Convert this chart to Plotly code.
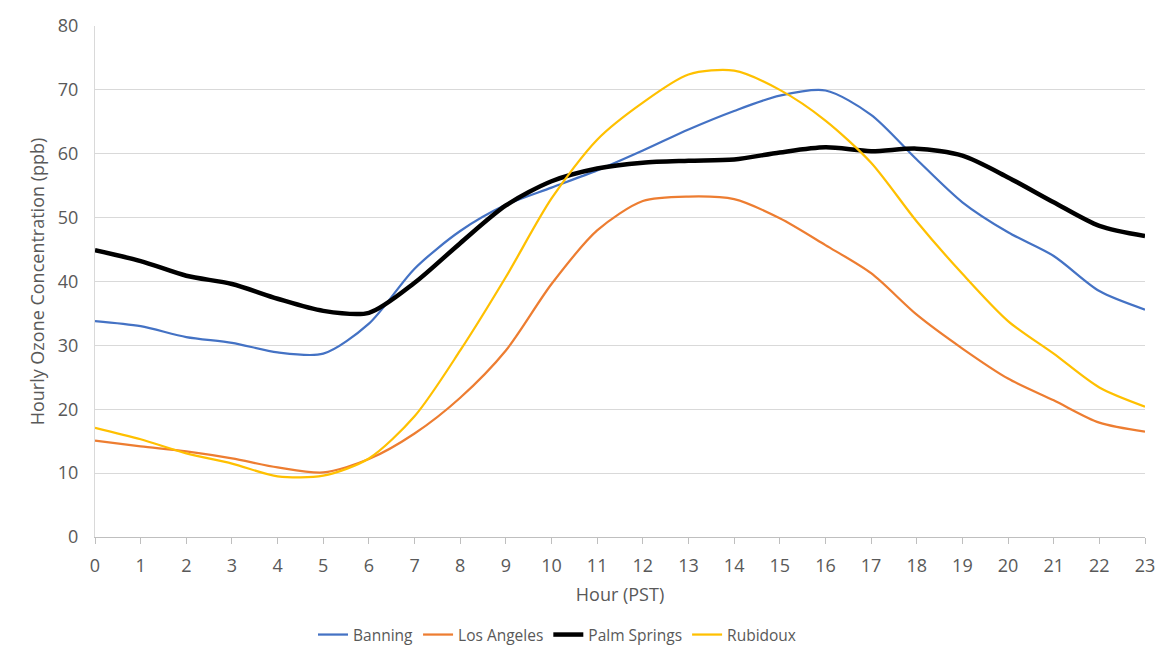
import plotly.graph_objects as go

hours = list(range(24))
banning = [33.8, 33.0, 31.3, 30.4, 28.9, 28.7, 33.4, 42.0, 47.9, 52.0, 54.7, 57.4,
           60.5, 63.8, 66.7, 69.1, 69.9, 66.1, 59.1, 52.4, 47.7, 44.0, 38.5, 35.6]
los_angeles = [15.1, 14.2, 13.4, 12.3, 10.9, 10.1, 12.2, 16.2, 21.8, 29.2, 39.6, 48.0,
               52.6, 53.3, 52.9, 49.9, 45.7, 41.3, 34.8, 29.5, 24.8, 21.4, 17.9, 16.5]
palm_springs = [44.9, 43.2, 40.9, 39.6, 37.3, 35.4, 35.1, 39.8, 46.0, 51.9, 55.7, 57.7,
                58.6, 58.9, 59.1, 60.2, 61.0, 60.4, 60.8, 59.7, 56.3, 52.4, 48.7, 47.1]
rubidoux = [17.1, 15.3, 13.1, 11.5, 9.5, 9.6, 12.3, 18.9, 29.2, 40.7, 53.0, 62.2,
            68.0, 72.4, 73.0, 70.0, 65.2, 58.6, 49.4, 41.2, 33.8, 28.7, 23.4, 20.4]

series = [
    ("Banning", banning, "#4472C4", 2.25),
    ("Los Angeles", los_angeles, "#ED7D31", 2.25),
    ("Palm Springs", palm_springs, "#000000", 4.5),
    ("Rubidoux", rubidoux, "#FFC000", 2.25),
]

fig = go.Figure()
for name, vals, color, w in series:
    fig.add_trace(go.Scatter(
        x=hours, y=vals, name=name, mode="lines",
        line=dict(color=color, width=w, shape="spline", smoothing=0.8),
    ))

font_family = "Open Sans, Liberation Sans, sans-serif"
grey = "#595959"

fig.update_layout(
    width=1156, height=656,
    paper_bgcolor="white", plot_bgcolor="white",
    margin=dict(l=87, r=19, t=18, b=125),
    font=dict(family=font_family, size=18, color=grey),
    xaxis=dict(
        range=[0, 23], tickmode="array", tickvals=hours,
        ticktext=[str(h) for h in hours],
        showgrid=False, showline=True, linecolor="#bfbfbf", linewidth=1,
        ticks="outside", ticklen=6, tickcolor="#bfbfbf",
        ticklabelstandoff=6,
        tickfont=dict(size=18, color=grey),
        title=dict(text="Hour (PST)", font=dict(size=18, color=grey), standoff=12),
        zeroline=False, automargin=False,
    ),
    yaxis=dict(
        range=[0, 80], tickmode="array", tickvals=list(range(0, 81, 10)),
        showgrid=True, gridcolor="#d9d9d9", gridwidth=1,
        showline=True, linecolor="#d9d9d9", linewidth=1,
        ticks="", ticklabelstandoff=12, tickfont=dict(size=18, color=grey),
        title=dict(text="Hourly Ozone Concentration (ppb)", font=dict(size=18, color=grey), standoff=8),
        zeroline=False, automargin=False,
    ),
    legend=dict(
        orientation="h", x=0.44, xanchor="center", y=-0.225, yanchor="bottom",
        font=dict(size=15.5, color=grey), itemwidth=30, tracegroupgap=0,
    ),
    shapes=[dict(type="line", xref="paper", yref="paper",
                 x0=-0.0838, x1=-0.0838, y0=-0.3, y1=1.06,
                 line=dict(color="#d9d9d9", width=1))],
)

fig.write_html("out.html")
